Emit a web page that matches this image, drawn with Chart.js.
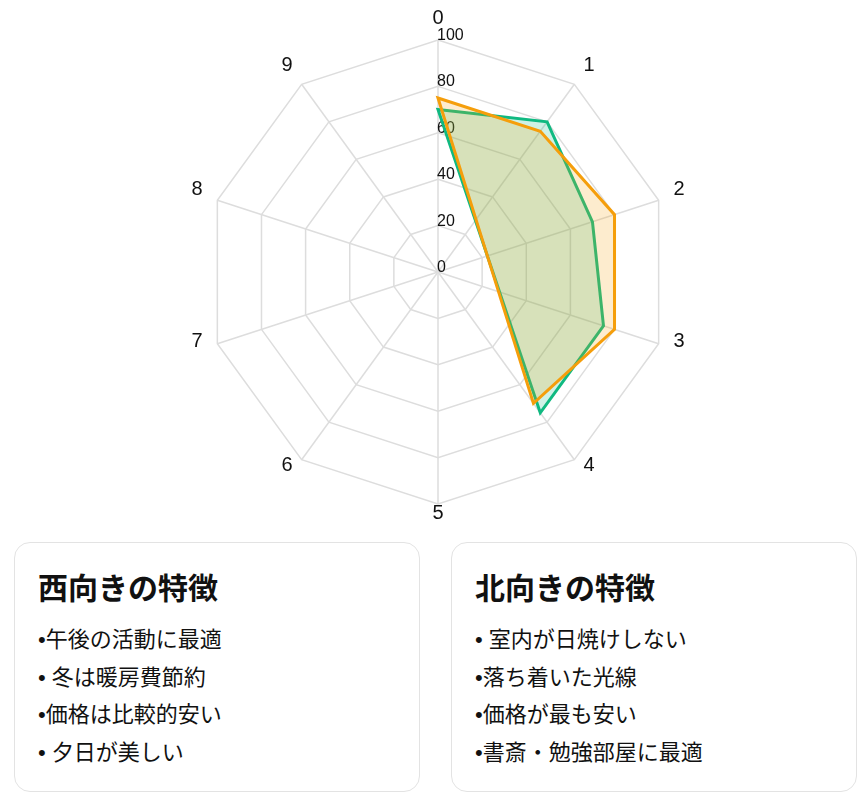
<!DOCTYPE html>
<html lang="ja">
<head>
<meta charset="utf-8">
<script src="https://cdn.jsdelivr.net/npm/chart.js@4"></script>
<style>
  body { margin: 0; background: #fff; font-family: "Liberation Sans", "Noto Sans CJK JP", sans-serif; color: #111; }
  #chartBox { position: relative; width: 866px; height: 540px; }
  .cards { position: absolute; top: 542px; left: 14px; display: flex; gap: 31px; }
  .card { box-sizing: border-box; width: 406px; height: 250px; border: 1px solid #e3e3e3; border-radius: 16px; padding: 0 23px; }
  .card h3 { margin: 28px 0 14px; font-size: 30px; line-height: 36px; font-weight: bold; }
  .card div { font-size: 22px; line-height: 37.5px; }
</style>
</head>
<body>
<div id="chartBox"><canvas id="radarChart"></canvas></div>
<div class="cards">
  <div class="card" id="westCard"></div>
  <div class="card" id="northCard"></div>
</div>
<script>
const labels = ["0", "1", "2", "3", "4", "5", "6", "7", "8", "9"];
const westValues = [75, 75, 80, 80, 70];
const northValues = [70, 80, 70, 75, 75];
const westTitle = "西向きの特徴";
const northTitle = "北向きの特徴";
const westPoints = ["•午後の活動に最適", "• 冬は暖房費節約", "•価格は比較的安い", "• 夕日が美しい"];
const northPoints = ["• 室内が日焼けしない", "•落ち着いた光線", "•価格が最も安い", "•書斎・勉強部屋に最適"];

function fillCard(id, title, items) {
  const card = document.getElementById(id);
  const h = document.createElement("h3");
  h.textContent = title;
  card.appendChild(h);
  for (const item of items) {
    const line = document.createElement("div");
    line.textContent = item;
    card.appendChild(line);
  }
}
fillCard("westCard", westTitle, westPoints);
fillCard("northCard", northTitle, northPoints);

// tick labels and point labels drawn the way the reference places them
const labelPlugin = {
  id: "radarLabels",
  beforeDatasetsDraw(chart) {
    const scale = chart.scales.r;
    const ctx = chart.ctx;
    ctx.save();
    ctx.fillStyle = "#111";
    ctx.font = "16px 'Liberation Sans', Arial, sans-serif";
    ctx.textAlign = "left";
    ctx.textBaseline = "alphabetic";
    for (const tick of scale.ticks) {
      const y = scale.yCenter - scale.getDistanceFromCenterForValue(tick.value);
      ctx.fillText(tick.label, scale.xCenter - 1, y);
    }
    ctx.font = "20px 'Liberation Sans', Arial, sans-serif";
    ctx.textBaseline = "middle";
    labels.forEach((label, i) => {
      const p = scale.getPointPosition(i, scale.drawingArea + 15.5);
      const dx = p.x - scale.xCenter;
      ctx.textAlign = Math.abs(dx) < 1 ? "center" : (dx > 0 ? "left" : "right");
      ctx.fillText(label, p.x, p.y - 6.5);
    });
    ctx.restore();
  }
};

const ctx = document.getElementById("radarChart").getContext("2d");
new Chart(ctx, {
  type: "radar",
  data: {
    labels,
    datasets: [
      {
        label: "西向き",
        data: westValues,
        borderColor: "#f59e0b",
        backgroundColor: "rgba(245, 158, 11, 0.2)",
        borderWidth: 3,
        pointRadius: 0,
        spanGaps: true,
        fill: true
      },
      {
        label: "北向き",
        data: northValues,
        borderColor: "#10b981",
        backgroundColor: "rgba(16, 185, 129, 0.2)",
        borderWidth: 3,
        pointRadius: 0,
        spanGaps: true,
        fill: true
      }
    ]
  },
  options: {
    responsive: true,
    maintainAspectRatio: false,
    animation: false,
    layout: { padding: { left: 206, right: 196, top: 40, bottom: 36 } },
    plugins: { legend: { display: false }, tooltip: { enabled: false } },
    scales: {
      r: {
        min: 0,
        max: 100,
        ticks: { stepSize: 20, display: false },
        pointLabels: { display: false },
        grid: { color: "#dddddd", lineWidth: 1.5 },
        angleLines: { color: "#dddddd", lineWidth: 1.5 }
      }
    }
  },
  plugins: [labelPlugin]
});
</script>
</body>
</html>
